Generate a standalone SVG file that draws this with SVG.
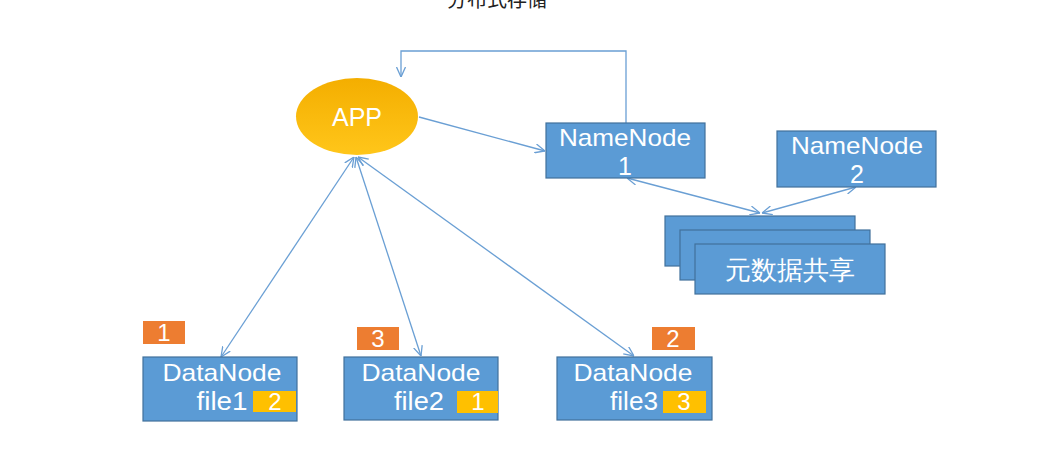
<svg xmlns="http://www.w3.org/2000/svg" width="1060" height="469" viewBox="0 0 1060 469">
<style>
.box{fill:#5B9BD5;stroke:#41719C;stroke-width:1.2}
.t{font-family:"Liberation Sans",Arial,sans-serif;fill:#fff;text-anchor:middle}
.c{fill:none;stroke:#6A9FD4;stroke-width:1.3}
.org{fill:#ED7D31}
.yel{fill:#FFC000}
</style>
<defs>
<linearGradient id="g" x1="0" y1="0" x2="0" y2="1">
<stop offset="0" stop-color="#F4AE00"/>
<stop offset="1" stop-color="#FFC61A"/>
</linearGradient>
<marker id="a" viewBox="0 0 10 10" refX="10" refY="5" markerWidth="10" markerHeight="10" markerUnits="userSpaceOnUse" orient="auto-start-reverse">
<path d="M0,0.5 L10,5 L0,9.5" fill="none" stroke="#6A9FD4" stroke-width="1.3"/>
</marker>
</defs>
<rect width="1060" height="469" fill="#fff"/>
<text x="497" y="7" font-family="'Noto Sans CJK SC',sans-serif" font-size="20" fill="#222" text-anchor="middle">分布式存储</text>
<g id="connectors">
<path class="c" d="M626,123 V51 H401 V77" stroke="#8FB4DE" marker-end="url(#a)"/>
<path class="c" d="M419,117 L545,151" marker-end="url(#a)"/>
<path class="c" d="M627,178 L760,213" marker-start="url(#a)" marker-end="url(#a)"/>
<path class="c" d="M856,187 L762,213" marker-start="url(#a)" marker-end="url(#a)"/>
<path class="c" d="M354,157 L221,357" marker-start="url(#a)" marker-end="url(#a)"/>
<path class="c" d="M356,157 L421,356" marker-start="url(#a)" marker-end="url(#a)"/>
<path class="c" d="M358,157 L634,356" marker-start="url(#a)" marker-end="url(#a)"/>
</g>
<g id="app">
<ellipse cx="357" cy="116.5" rx="61" ry="38.5" fill="url(#g)"/>
<text class="t" x="357" y="126" font-size="25">APP</text>
</g>
<g id="namenode1">
<rect class="box" x="546" y="123" width="159" height="55"/>
<text class="t" x="625" y="146" font-size="24" textLength="132" lengthAdjust="spacingAndGlyphs">NameNode</text>
<text class="t" x="625" y="175" font-size="25">1</text>
</g>
<g id="namenode2">
<rect class="box" x="777" y="131" width="159" height="56"/>
<text class="t" x="857" y="154" font-size="24" textLength="132" lengthAdjust="spacingAndGlyphs">NameNode</text>
<text class="t" x="857" y="183" font-size="25">2</text>
</g>
<g id="metadata">
<rect class="box" x="665" y="216" width="190" height="50"/>
<rect class="box" x="680" y="230" width="190" height="50"/>
<rect class="box" x="695" y="244" width="190" height="50"/>
<text class="t" x="790" y="279" font-size="26" font-family="'Noto Sans CJK SC',sans-serif">元数据共享</text>
</g>
<g id="datanode1">
<rect class="org" x="143" y="321" width="42" height="23"/>
<text class="t" x="164" y="341" font-size="24">1</text>
<rect class="box" x="143" y="357" width="154" height="64"/>
<text class="t" x="222" y="381" font-size="24" textLength="119" lengthAdjust="spacingAndGlyphs">DataNode</text>
<text class="t" x="222" y="410" font-size="25" textLength="51" lengthAdjust="spacingAndGlyphs">file1</text>
<rect class="yel" x="253" y="391" width="43" height="21"/>
<text class="t" x="275" y="410" font-size="24">2</text>
</g>
<g id="datanode2">
<rect class="org" x="357" y="327" width="42" height="23"/>
<text class="t" x="378" y="347" font-size="24">3</text>
<rect class="box" x="344" y="357" width="154" height="63"/>
<text class="t" x="421" y="381" font-size="24" textLength="119" lengthAdjust="spacingAndGlyphs">DataNode</text>
<text class="t" x="419" y="410" font-size="25" textLength="50" lengthAdjust="spacingAndGlyphs">file2</text>
<rect class="yel" x="457" y="391" width="41" height="22"/>
<text class="t" x="478" y="410" font-size="24">1</text>
</g>
<g id="datanode3">
<rect class="org" x="652" y="327" width="43" height="23"/>
<text class="t" x="673" y="347" font-size="24">2</text>
<rect class="box" x="557" y="357" width="155" height="63"/>
<text class="t" x="633" y="381" font-size="24" textLength="119" lengthAdjust="spacingAndGlyphs">DataNode</text>
<text class="t" x="634" y="410" font-size="25" textLength="48" lengthAdjust="spacingAndGlyphs">file3</text>
<rect class="yel" x="663" y="391" width="43" height="22"/>
<text class="t" x="684" y="410" font-size="24">3</text>
</g>
</svg>
